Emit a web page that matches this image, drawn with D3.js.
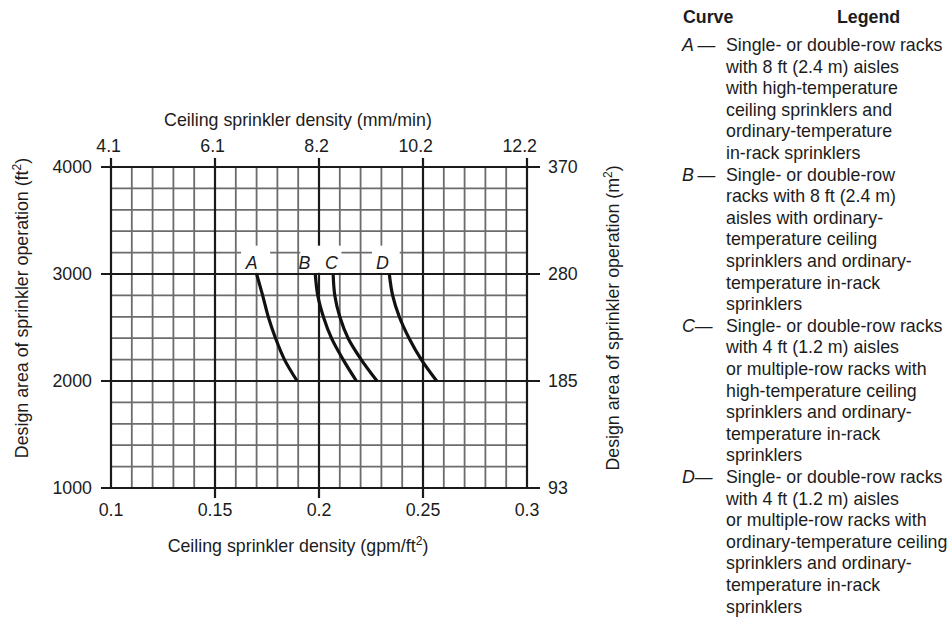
<!DOCTYPE html>
<html><head><meta charset="utf-8">
<script src="https://cdn.jsdelivr.net/npm/d3@7"></script>
<style>
body{margin:0;background:#fff}
svg{display:block}
text{font-family:"Liberation Sans",Arial,Helvetica,sans-serif;fill:#1c1c1c}
</style>
</head><body>
<svg id="chart" width="952" height="617"></svg>
<script>
// ---- data ----
const densityTicks = [0.1, 0.15, 0.2, 0.25, 0.3];
const densityTickLabels = ["0.1", "0.15", "0.2", "0.25", "0.3"];
const metricDensityLabels = ["4.1", "6.1", "8.2", "10.2", "12.2"];
const areaTicks = [1000, 2000, 3000, 4000];
const areaTickLabels = ["1000", "2000", "3000", "4000"];
const metricAreaLabels = ["93", "185", "280", "370"];
const curveNames = ["A", "B", "C", "D"];
const curveAreas = [3000, 2800, 2600, 2400, 2200, 2000];
const curveA = [0.1700, 0.1729, 0.1756, 0.1791, 0.1834, 0.1895];
const curveB = [0.1982, 0.1994, 0.2021, 0.2060, 0.2116, 0.2180];
const curveC = [0.2068, 0.2076, 0.2100, 0.2140, 0.2203, 0.2279];
const curveD = [0.2338, 0.2354, 0.2386, 0.2433, 0.2492, 0.2566];
const curveLabelDensity = [0.1676, 0.1930, 0.2060, 0.2305];
// white label patches (density ranges) over the grid row above 3000
const labelPatchFrom = [0.1625, 0.1910, 0.2255];
const labelPatchTo = [0.1765, 0.2108, 0.2388];
const labelPatchTopArea = 3265;
const legendDash = ["\u2009\u2014", "\u2009\u2014", "\u2014", "\u2014"];
const legendA = ["Single- or double-row racks", "with 8 ft (2.4 m) aisles", "with high-temperature", "ceiling sprinklers and", "ordinary-temperature", "in-rack sprinklers"];
const legendB = ["Single- or double-row", "racks with 8 ft (2.4 m)", "aisles with ordinary-", "temperature ceiling", "sprinklers and ordinary-", "temperature in-rack", "sprinklers"];
const legendC = ["Single- or double-row racks", "with 4 ft (1.2 m) aisles", "or multiple-row racks with", "high-temperature ceiling", "sprinklers and ordinary-", "temperature in-rack", "sprinklers"];
const legendD = ["Single- or double-row racks", "with 4 ft (1.2 m) aisles", "or multiple-row racks with", "ordinary-temperature ceiling", "sprinklers and ordinary-", "temperature in-rack", "sprinklers"];

// ---- layout ----
const svg = d3.select("#chart");
const FS = 17.8;
const x = d3.scaleLinear().domain([0.1, 0.3]).range([111, 527]);
const y = d3.scaleLinear().domain([1000, 4000]).range([488, 167]);

const minorX = d3.range(0, 21).map(i => +(0.1 + i * 0.01).toFixed(3));
const minorY = d3.range(0, 16).map(i => 1000 + i * 200);
const isMajorX = v => densityTicks.some(t => Math.abs(t - v) < 1e-9);
const isMajorY = v => areaTicks.includes(v);

const grid = svg.append("g");
// minor grid
grid.selectAll("line.mx").data(minorX.filter(v => !isMajorX(v))).join("line")
  .attr("x1", d => x(d)).attr("x2", d => x(d))
  .attr("y1", y(4000)).attr("y2", y(1000))
  .attr("stroke", "#6c6c6c").attr("stroke-width", 1.8);
grid.selectAll("line.my").data(minorY.filter(v => !isMajorY(v))).join("line")
  .attr("x1", x(0.1)).attr("x2", x(0.3))
  .attr("y1", d => y(d)).attr("y2", d => y(d))
  .attr("stroke", "#6c6c6c").attr("stroke-width", 1.8);
// major verticals (with top ticks, inner bottom ticks)
grid.selectAll("line.Mx").data(densityTicks).join("line")
  .attr("x1", d => x(d)).attr("x2", d => x(d))
  .attr("y1", y(4000) - 9)
  .attr("y2", (d, i) => (i === 0 || i === densityTicks.length - 1) ? y(1000) : y(1000) + 10)
  .attr("stroke", "#1a1a1a").attr("stroke-width", 2.2);
// major horizontals (with left/right ticks)
grid.selectAll("line.My").data(areaTicks).join("line")
  .attr("x1", x(0.1) - 10).attr("x2", x(0.3) + 13)
  .attr("y1", d => y(d)).attr("y2", d => y(d))
  .attr("stroke", "#1a1a1a").attr("stroke-width", 2.2);

// white patches behind curve labels
svg.append("g").selectAll("rect").data(labelPatchFrom).join("rect")
  .attr("x", d => x(d))
  .attr("width", (d, i) => x(labelPatchTo[i]) - x(d))
  .attr("y", y(labelPatchTopArea))
  .attr("height", y(3000) - 1.2 - y(labelPatchTopArea))
  .attr("fill", "#fff");

// curves
const series = [curveA, curveB, curveC, curveD].map(arr => arr.map((v, i) => ({v, a: curveAreas[i]})));
const line = d3.line().x(d => x(d.v)).y(d => y(d.a)).curve(d3.curveCatmullRom.alpha(0.5));
svg.append("g").selectAll("path").data(series).join("path")
  .attr("d", line).attr("fill", "none")
  .attr("stroke", "#111").attr("stroke-width", 3.2).attr("stroke-linecap", "butt");

// curve labels
svg.append("g").selectAll("text").data(curveNames).join("text")
  .attr("x", (d, i) => x(curveLabelDensity[i])).attr("y", y(3000) - 5)
  .attr("text-anchor", "middle").attr("font-style", "italic")
  .attr("font-size", FS).text(d => d);

// axis tick labels
const tl = svg.append("g").attr("font-size", FS);
tl.selectAll("text.b").data(densityTicks).join("text")
  .attr("x", d => x(d)).attr("y", y(1000) + 28)
  .attr("text-anchor", "middle").text((d, i) => densityTickLabels[i]);
tl.selectAll("text.t").data(densityTicks).join("text")
  .attr("x", d => x(d) + 10).attr("y", y(4000) - 15)
  .attr("text-anchor", "end").text((d, i) => metricDensityLabels[i]);
tl.selectAll("text.l").data(areaTicks).join("text")
  .attr("x", x(0.1) - 19).attr("y", d => y(d) + 6)
  .attr("text-anchor", "end").text((d, i) => areaTickLabels[i]);
tl.selectAll("text.r").data(areaTicks).join("text")
  .attr("x", x(0.3) + 21).attr("y", d => y(d) + 6)
  .attr("text-anchor", "start").text((d, i) => metricAreaLabels[i]);

// axis titles
const midX = 298;
svg.append("text").attr("x", midX).attr("y", 126).attr("text-anchor", "middle")
  .attr("font-size", FS).text("Ceiling sprinkler density (mm/min)");
const bt = svg.append("text").attr("x", midX).attr("y", 552).attr("text-anchor", "middle")
  .attr("font-size", FS);
bt.append("tspan").text("Ceiling sprinkler density (gpm/ft");
bt.append("tspan").attr("dy", -7).attr("font-size", FS * 0.68).text("2");
bt.append("tspan").attr("dy", 7).text(")");

function vTitle(cx, cy, main, unit) {
  const t = svg.append("text").attr("transform", `translate(${cx},${cy}) rotate(-90)`)
    .attr("text-anchor", "middle").attr("font-size", FS);
  t.append("tspan").text(main + " (" + unit);
  t.append("tspan").attr("dy", -7).attr("font-size", FS * 0.68).text("2");
  t.append("tspan").attr("dy", 7).text(")");
}
vTitle(28, 308, "Design area of sprinkler operation", "ft");
vTitle(619, 318, "Design area of sprinkler operation", "m");

// legend
const lg = svg.append("g").attr("font-size", FS);
lg.append("text").attr("x", 683).attr("y", 23).attr("font-weight", "bold").text("Curve");
lg.append("text").attr("x", 837).attr("y", 23).attr("font-weight", "bold").text("Legend");
const legendBlocks = [legendA, legendB, legendC, legendD];
let row = 0;
const LH = 21.6;
legendBlocks.forEach((lines, k) => {
  const y0 = 51 + row * LH;
  const key = lg.append("text").attr("x", 682).attr("y", y0);
  key.append("tspan").attr("font-style", "italic").text(curveNames[k]);
  key.append("tspan").text(legendDash[k]);
  lines.forEach((s, j) => {
    lg.append("text").attr("x", 726).attr("y", 51 + (row + j) * LH).text(s);
  });
  row += lines.length;
});
</script>
</body></html>
